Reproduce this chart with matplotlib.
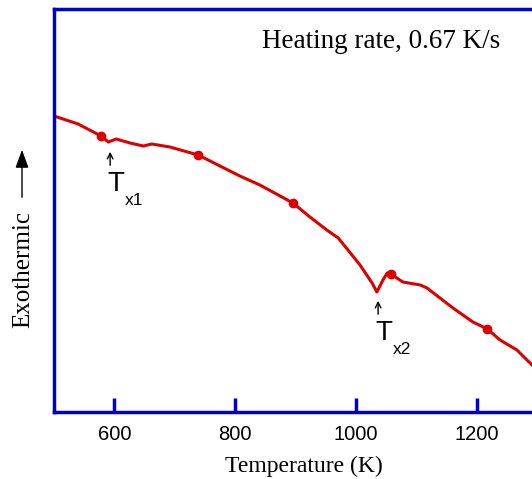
import matplotlib
matplotlib.use('Agg')
import matplotlib.pyplot as plt

# DSC trace (temperature in K, signal in arbitrary units)
temp = [500, 540, 578, 590, 603, 626, 648, 662, 692, 739, 775, 808, 841,
        896, 924, 952, 971, 1007, 1027, 1035, 1045, 1052, 1058, 1078, 1107,
        1118, 1161, 1194, 1218, 1239, 1267, 1292]
signal = [296, 288, 276, 270, 273, 269, 266, 268, 265, 257, 246, 236, 227,
          209, 195, 182, 174, 147, 129, 120, 132, 139, 138, 130, 127,
          124, 104, 90, 83, 72, 62, 47]
marker_temp = [578, 739, 896, 1058, 1218]
marker_signal = [276, 257, 209, 138, 83]
xticks = [600, 800, 1000, 1200]

# crystallisation onsets: arrow x, arrow tip y, label text
onset_temp = [593, 1037]
onset_signal = [263, 114]
onset_sub = ['x1', 'x2']

blue = '#0000cc'
red = '#dd0000'

fig = plt.figure(figsize=(5.32, 4.79), dpi=100)
ax = fig.add_axes([54/532, 67/479, 507/532, 403/479])

ax.plot(temp, signal, color=red, lw=2.2)
ax.plot(marker_temp, marker_signal, 'o', color=red, ms=6)

ax.set_xlim(500, 1340)
ax.set_ylim(0, 403)
ax.set_xticks(xticks)
ax.set_yticks([])
for s in ax.spines.values():
    s.set_color(blue)
    s.set_linewidth(2.5)
ax.tick_params(axis='x', direction='in', length=10, width=2.5, color=blue,
               pad=9, labelsize=14.5)
for lab in ax.get_xticklabels():
    lab.set_fontfamily('Liberation Sans')

fig.text(304/532, 1 - 466/479, 'Temperature (K)', family='Liberation Serif',
         fontsize=17, ha='center', va='center')
ax.text(0.41, 0.92, 'Heating rate, 0.67 K/s', transform=ax.transAxes,
        family='Liberation Serif', fontsize=19.5, va='center', ha='left')

# Tx1 and Tx2 labels with small arrows
for tx, ty, sub in zip(onset_temp, onset_signal, onset_sub):
    ax.annotate('', xy=(tx, ty), xytext=(tx, ty - 19),
                arrowprops=dict(arrowstyle='->', color='black', lw=1))
    ax.text(tx + 10, ty - 22, 'T', family='Liberation Sans', fontsize=20,
            ha='center', va='top')
    ax.text(tx + 24, ty - 44, sub, family='Liberation Sans', fontsize=12.5,
            ha='left', va='top')

# Exothermic label with arrow
fig.text(23/532, 1 - 270/479, 'Exothermic', rotation=90, family='Liberation Serif',
         fontsize=18, ha='center', va='center')
fig.add_artist(matplotlib.patches.FancyArrowPatch(
    (22/532, 1 - 200/479), (22/532, 1 - 147/479), transform=fig.transFigure,
    arrowstyle='-|>,head_length=11,head_width=4', color='black', lw=1))

plt.savefig('out.png', dpi=100)
